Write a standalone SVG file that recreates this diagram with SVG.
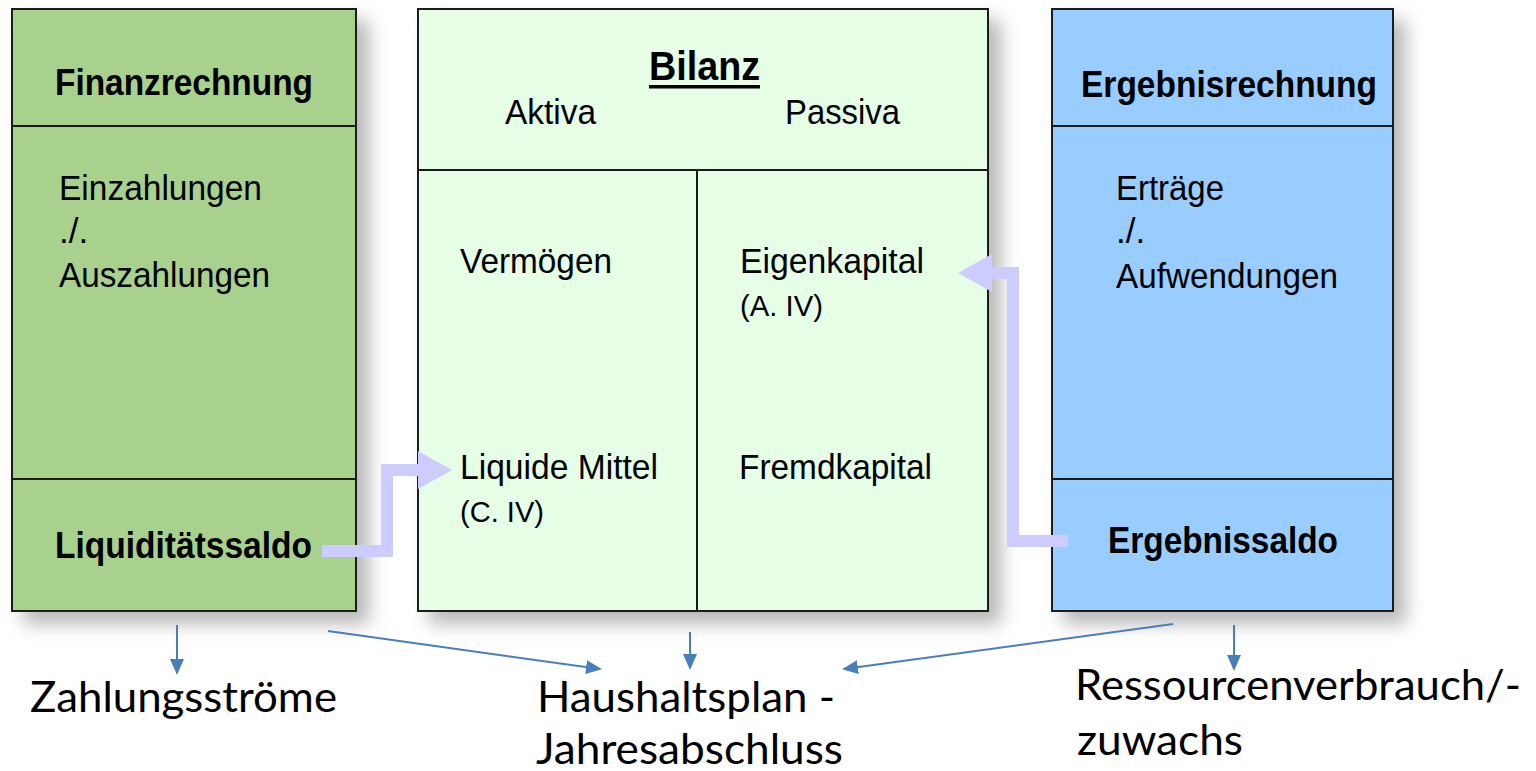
<svg xmlns="http://www.w3.org/2000/svg" width="1536" height="771" viewBox="0 0 1536 771">
<style>
.box{stroke:#1a1a1a;stroke-width:2}
.div{stroke:#1a1a1a;stroke-width:2;fill:none}
.t{font-family:"Liberation Sans",Arial,sans-serif;font-size:35px;fill:#000}
.b{font-weight:bold;font-size:37px}
.s{font-size:30px}
.lbl{font-family:Lato,"Liberation Sans",sans-serif;font-size:43px;fill:#000}
.thin{stroke:#4a7ebb;stroke-width:2;fill:none;marker-end:url(#ah)}
.fat{fill:#ccccff}
</style>
<defs>
<filter id="sh" x="-10%" y="-10%" width="130%" height="130%">
<feDropShadow dx="12" dy="12" stdDeviation="9" flood-color="#000" flood-opacity="0.28"/>
</filter>
<marker id="ah" markerWidth="16" markerHeight="14" refX="14" refY="7" orient="auto" markerUnits="userSpaceOnUse">
<path d="M0,0 L16,7 L0,14 Z" fill="#4a7ebb"/>
</marker>
</defs>
<rect width="1536" height="771" fill="#fff"/>

<g id="finanzrechnung">
<rect class="box" x="12" y="9" width="344" height="602" fill="#a9d18e" filter="url(#sh)"/>
<line class="div" x1="12" y1="126" x2="356" y2="126"/>
<line class="div" x1="12" y1="479" x2="356" y2="479"/>
<text class="t b" x="55" y="95" textLength="258" lengthAdjust="spacingAndGlyphs">Finanzrechnung</text>
<text class="t" x="59" y="200" textLength="203" lengthAdjust="spacingAndGlyphs">Einzahlungen</text>
<text class="t" x="59" y="243">./.</text>
<text class="t" x="59" y="287" textLength="211" lengthAdjust="spacingAndGlyphs">Auszahlungen</text>
<text class="t b" x="55" y="558" textLength="257" lengthAdjust="spacingAndGlyphs">Liquiditätssaldo</text>
</g>

<g id="bilanz">
<rect class="box" x="418" y="9" width="570" height="602" fill="#e6fde6" filter="url(#sh)"/>
<line class="div" x1="418" y1="170" x2="988" y2="170"/>
<line class="div" x1="697" y1="170" x2="697" y2="611"/>
<text class="t b" x="649" y="80" style="font-size:40px" textLength="111" lengthAdjust="spacingAndGlyphs">Bilanz</text>
<rect x="649" y="85" width="111" height="3.5" fill="#000"/>
<text class="t" x="505" y="124" textLength="91" lengthAdjust="spacingAndGlyphs">Aktiva</text>
<text class="t" x="785" y="124" textLength="115" lengthAdjust="spacingAndGlyphs">Passiva</text>
<text class="t" x="460" y="273" textLength="152" lengthAdjust="spacingAndGlyphs">Vermögen</text>
<text class="t" x="740" y="273" textLength="184" lengthAdjust="spacingAndGlyphs">Eigenkapital</text>
<text class="t s" x="740" y="316" textLength="83" lengthAdjust="spacingAndGlyphs">(A. IV)</text>
<text class="t" x="460" y="479" textLength="198" lengthAdjust="spacingAndGlyphs">Liquide Mittel</text>
<text class="t s" x="460" y="522" textLength="84" lengthAdjust="spacingAndGlyphs">(C. IV)</text>
<text class="t" x="739" y="479" textLength="193" lengthAdjust="spacingAndGlyphs">Fremdkapital</text>
</g>

<g id="ergebnisrechnung">
<rect class="box" x="1052" y="9" width="341" height="602" fill="#99ccff" filter="url(#sh)"/>
<line class="div" x1="1052" y1="126" x2="1393" y2="126"/>
<line class="div" x1="1052" y1="479" x2="1393" y2="479"/>
<text class="t b" x="1081" y="97" textLength="296" lengthAdjust="spacingAndGlyphs">Ergebnisrechnung</text>
<text class="t" x="1116" y="200" textLength="108" lengthAdjust="spacingAndGlyphs">Erträge</text>
<text class="t" x="1116" y="243">./.</text>
<text class="t" x="1116" y="288" textLength="222" lengthAdjust="spacingAndGlyphs">Aufwendungen</text>
<text class="t b" x="1108" y="553" textLength="230" lengthAdjust="spacingAndGlyphs">Ergebnissaldo</text>
</g>

<g id="labels">
<text class="lbl" x="30" y="712" textLength="307" lengthAdjust="spacingAndGlyphs">Zahlungsströme</text>
<text class="lbl" x="537" y="712" textLength="298" lengthAdjust="spacingAndGlyphs">Haushaltsplan -</text>
<text class="lbl" x="536" y="764" textLength="307" lengthAdjust="spacingAndGlyphs">Jahresabschluss</text>
<text class="lbl" x="1075" y="700" textLength="446" lengthAdjust="spacingAndGlyphs">Ressourcenverbrauch/-</text>
<text class="lbl" x="1077" y="755" textLength="166" lengthAdjust="spacingAndGlyphs">zuwachs</text>
</g>

<g id="connectors">
<polygon class="fat" points="322,545 381,545 381,464 418,464 418,451 452,470 418,489 418,476 393,476 393,557 322,557"/>
<polygon class="fat" points="958,273 992,254 992,267 1019,267 1019,535 1068,535 1068,547 1007,547 1007,279 992,279 992,292"/>
<line class="thin" x1="177" y1="625" x2="177" y2="673"/>
<line class="thin" x1="328" y1="631" x2="600" y2="669"/>
<line class="thin" x1="690" y1="632" x2="690" y2="668"/>
<line class="thin" x1="1173" y1="624" x2="844" y2="669"/>
<line class="thin" x1="1234" y1="625" x2="1234" y2="669"/>
</g>
</svg>
